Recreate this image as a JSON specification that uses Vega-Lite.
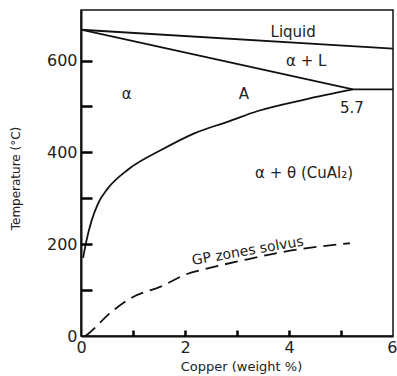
{
  "$schema": "https://vega.github.io/schema/vega-lite/v6.json",
  "autosize": {"type": "none"},
  "width": 312,
  "height": 326,
  "padding": {"left": 81, "top": 10, "right": 4, "bottom": 40},
  "background": "white",
  "config": {
    "view": {"stroke": "#111", "strokeWidth": 1.5},
    "font": "DejaVu Sans",
    "axis": {
      "domainColor": "#111",
      "domainWidth": 2,
      "grid": false,
      "labelFont": "DejaVu Sans",
      "labelFontSize": 16,
      "labelColor": "#222",
      "titleFont": "DejaVu Sans",
      "titleColor": "#222",
      "titleFontWeight": "normal"
    }
  },
  "datasets": {
    "liquidus": [
      {"cu": 0, "t": 667},
      {"cu": 6, "t": 626}
    ],
    "solidus": [
      {"cu": 0, "t": 667},
      {"cu": 5.23, "t": 537}
    ],
    "eutectic": [
      {"cu": 5.23, "t": 537},
      {"cu": 6, "t": 537}
    ],
    "solvus": [
      {"cu": 0.04, "t": 170},
      {"cu": 0.1, "t": 205},
      {"cu": 0.2, "t": 250},
      {"cu": 0.33, "t": 289},
      {"cu": 0.52, "t": 322},
      {"cu": 0.9, "t": 362},
      {"cu": 1.54, "t": 405},
      {"cu": 2.19, "t": 442},
      {"cu": 2.83, "t": 467},
      {"cu": 3.4, "t": 490},
      {"cu": 4.3, "t": 515},
      {"cu": 5.23, "t": 537}
    ],
    "gp": [
      {"cu": 0.08, "t": 0},
      {"cu": 0.13, "t": 4},
      {"cu": 0.56, "t": 50},
      {"cu": 1.0, "t": 85},
      {"cu": 1.52, "t": 107},
      {"cu": 2.04, "t": 135},
      {"cu": 2.29, "t": 143},
      {"cu": 3.12, "t": 165},
      {"cu": 3.88, "t": 183},
      {"cu": 5.17, "t": 202}
    ],
    "labels": [
      {"cu": 4.08, "t": 663, "txt": "Liquid"},
      {"cu": 4.33, "t": 600, "txt": "α + L"},
      {"cu": 0.88, "t": 526, "txt": "α"},
      {"cu": 3.13, "t": 526, "txt": "A"},
      {"cu": 5.21, "t": 496, "txt": "5.7"},
      {"cu": 4.29, "t": 354, "txt": "α + θ (CuAl₂)"}
    ],
    "gplabel": [
      {"cu": 3.22, "t": 176, "txt": "GP zones solvus"}
    ]
  },
  "resolve": {"axis": {"x": "independent", "y": "independent"}},
  "layer": [
    {
      "encoding": {
        "x": {
          "field": "cu",
          "type": "quantitative",
          "scale": {"domain": [0, 6], "nice": false, "zero": false},
          "axis": {
            "values": [0, 2, 4, 6],
            "ticks": false,
            "labelPadding": 3,
            "labelFlush": false,
            "labelAlign": {"condition": {"test": "datum.value == 6", "value": "right"}, "value": "center"},
            "labelOffset": {"condition": {"test": "datum.value == 6", "value": 4}, "value": 0},
            "title": "Copper (weight %)",
            "titleFontSize": 13,
            "titleX": 160,
            "titleY": 30,
            "titleBaseline": "middle"
          }
        },
        "y": {
          "field": "t",
          "type": "quantitative",
          "scale": {"domain": [0, 710], "nice": false, "zero": false},
          "axis": {
            "values": [0, 200, 400, 600],
            "ticks": false,
            "labelPadding": 4,
            "labelFlush": false,
            "title": "Temperature (°C)",
            "titleFontSize": 12,
            "titleX": -66,
            "titleY": 168,
            "titleBaseline": "middle"
          }
        }
      },
      "layer": [
        {"data": {"name": "liquidus"}, "mark": {"type": "line", "color": "#111", "strokeWidth": 1.8}},
        {"data": {"name": "solidus"}, "mark": {"type": "line", "color": "#111", "strokeWidth": 1.8}},
        {"data": {"name": "solvus"}, "mark": {"type": "line", "color": "#111", "strokeWidth": 1.8, "interpolate": "monotone"}},
        {"data": {"name": "gp"}, "mark": {"type": "line", "color": "#111", "strokeWidth": 1.8, "interpolate": "monotone", "strokeDash": [13, 7]}},
        {
          "data": {"name": "labels"},
          "mark": {"type": "text", "font": "DejaVu Sans", "fontSize": 15, "color": "#222", "align": "center", "baseline": "middle"},
          "encoding": {"text": {"field": "txt"}}
        },
        {
          "data": {"name": "gplabel"},
          "mark": {"type": "text", "font": "DejaVu Sans", "fontSize": 14, "color": "#222", "align": "center", "baseline": "alphabetic", "angle": -10},
          "encoding": {"text": {"field": "txt"}}
        }
      ]
    },
    {
      "data": {"name": "eutectic"},
      "mark": {"type": "line", "color": "#111", "strokeWidth": 1.8},
      "encoding": {
        "x": {
          "field": "cu",
          "type": "quantitative",
          "scale": {"domain": [0, 6], "nice": false, "zero": false},
          "axis": {
            "orient": "top",
            "offset": -326,
            "values": [1, 2, 3, 4, 5],
            "tickSize": 6,
            "tickColor": "black",
            "tickWidth": 2.5,
            "tickOpacity": 1,
            "labels": false,
            "domain": false,
            "title": null,
            "zindex": 2
          }
        },
        "y": {
          "field": "t",
          "type": "quantitative",
          "scale": {"domain": [0, 710], "nice": false, "zero": false},
          "axis": {
            "orient": "right",
            "offset": -312,
            "values": [100, 200, 300, 400, 500, 600],
            "tickSize": 11,
            "tickColor": "black",
            "tickWidth": 2.5,
            "tickOpacity": 1,
            "labels": false,
            "domain": false,
            "title": null,
            "zindex": 2
          }
        }
      }
    }
  ]
}
